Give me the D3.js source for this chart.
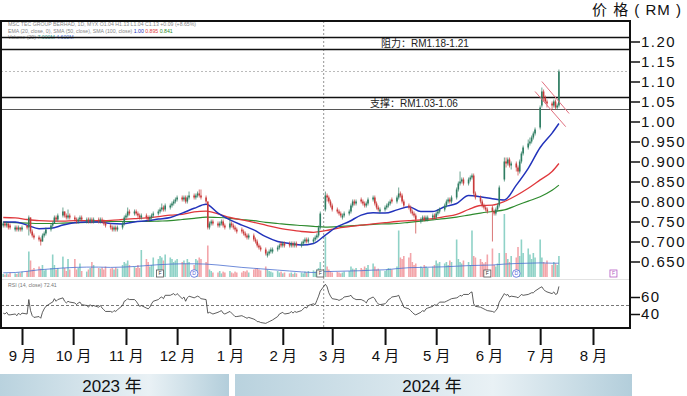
<!DOCTYPE html>
<html>
<head>
<meta charset="utf-8">
<script src="https://cdn.jsdelivr.net/npm/d3@7"></script>
<style>
  body { margin: 0; background: #fff; }
  svg { display: block; font-family: "Liberation Sans", Arial, "Noto Sans CJK SC", sans-serif; }
</style>
</head>
<body>
<div id="chart"></div>
<script>
// daily bars, one per weekday from Mon 21 Aug 2023 to Fri 12 Jul 2024 (5 per row = 1 week)
const opens = [
  .740,.745,.740,.745,.740, .730,.735,.730,.735,.730, .740,.735,.760,.725,.715, .710,.705,.700,.715,.720,
  .730,.740,.745,.760,.755, .765,.775,.765,.760,.765, .760,.755,.750,.755,.760, .750,.755,.750,.755,.750,
  .755,.750,.755,.750,.745, .740,.735,.730,.735,.730, .735,.745,.760,.765,.775, .770,.775,.770,.765,.760,
  .765,.760,.755,.760,.765, .770,.775,.780,.785,.780, .785,.790,.795,.800,.805, .810,.805,.810,.800,.810,
  .815,.810,.815,.820,.815, .810,.800,.735,.745,.750, .745,.740,.745,.750,.740, .735,.745,.740,.735,.730,
  .730,.725,.720,.715,.710, .715,.705,.700,.690,.685, .680,.665,.670,.675,.675, .680,.685,.695,.690,.695,
  .695,.690,.695,.690,.695, .690,.695,.700,.705,.700, .700,.705,.710,.715,.735, .780,.815,.810,.800,.790,
  .780,.775,.770,.760,.765, .770,.775,.790,.800,.795, .805,.800,.795,.790,.795, .805,.810,.795,.785,.775,
  .780,.785,.790,.795,.805, .800,.810,.820,.815,.800, .790,.785,.775,.770,.765, .750,.755,.760,.755,.755,
  .760,.765,.760,.770,.775, .780,.790,.800,.805,.800, .810,.830,.845,.850,.855, .845,.855,.860,.865,.820,
  .810,.800,.790,.785,.780, .785,.775,.770,.780,.790, .855,.900,.895,.905,.890, .895,.885,.875,.900,.920,
  .935,.945,.950,.960,.970, .985,1.040,1.075,1.060,1.050, 1.045,1.040,1.050,1.035,1.040
];
const highs = [
  .750,.750,.750,.745,.745, .740,.740,.740,.735,.740, .740,.765,.760,.730,.720, .715,.710,.720,.725,.735,
  .745,.750,.765,.765,.770, .785,.775,.770,.780,.770, .765,.760,.760,.765,.765, .760,.760,.760,.760,.760,
  .760,.760,.760,.755,.750, .745,.740,.740,.740,.740, .750,.765,.770,.785,.780, .780,.780,.775,.770,.770,
  .770,.765,.765,.770,.775, .780,.785,.795,.790,.795, .795,.800,.805,.810,.815, .815,.815,.815,.815,.825,
  .820,.820,.825,.830,.830, .815,.800,.750,.755,.755, .750,.750,.755,.755,.745, .760,.750,.745,.740,.735,
  .735,.730,.725,.720,.720, .720,.710,.705,.695,.690, .685,.675,.680,.685,.685, .690,.695,.700,.700,.700,
  .700,.700,.700,.700,.700, .700,.705,.710,.710,.710, .710,.715,.720,.740,.775, .825,.820,.815,.805,.795,
  .785,.780,.775,.770,.775, .780,.795,.805,.805,.805, .810,.805,.800,.800,.810, .815,.815,.800,.790,.785,
  .790,.795,.800,.805,.810, .815,.835,.825,.820,.805, .795,.790,.780,.775,.770, .760,.765,.765,.765,.765,
  .770,.770,.775,.780,.785, .795,.805,.810,.810,.815, .835,.850,.875,.860,.860, .860,.865,.870,.870,.825,
  .815,.805,.795,.790,.785, .790,.780,.785,.795,.840, .910,.910,.910,.910,.900, .900,.890,.905,.925,.940,
  .955,.960,.965,.975,.985, 1.040,1.085,1.080,1.065,1.055, 1.050,1.055,1.055,1.045,1.130
];
const lows = [
  .735,.735,.735,.730,.730, .725,.725,.725,.725,.725, .730,.715,.720,.710,.705, .700,.690,.700,.710,.715,
  .725,.735,.745,.750,.750, .760,.760,.755,.755,.755, .750,.745,.745,.750,.750, .745,.745,.745,.745,.745,
  .745,.745,.745,.740,.735, .730,.725,.725,.725,.725, .730,.740,.755,.760,.765, .765,.765,.760,.755,.755,
  .755,.750,.750,.755,.760, .765,.770,.775,.775,.775, .780,.785,.790,.795,.800, .800,.800,.795,.795,.805,
  .805,.805,.810,.810,.805, .795,.730,.730,.740,.740, .735,.735,.740,.735,.730, .730,.735,.730,.725,.720,
  .720,.715,.710,.705,.705, .700,.695,.685,.680,.675, .665,.660,.665,.670,.670, .675,.680,.685,.685,.685,
  .685,.685,.685,.685,.685, .685,.690,.695,.695,.695, .695,.700,.705,.710,.730, .775,.800,.795,.785,.775,
  .770,.765,.760,.755,.760, .765,.770,.785,.790,.790, .795,.790,.785,.785,.790, .800,.790,.780,.775,.770,
  .775,.780,.785,.790,.795, .795,.805,.810,.795,.785, .780,.770,.765,.760,.720, .745,.750,.750,.750,.750,
  .755,.755,.755,.765,.770, .775,.785,.795,.795,.795, .805,.825,.840,.845,.840, .840,.850,.855,.815,.805,
  .795,.785,.780,.775,.770, .700,.765,.765,.775,.785, .850,.885,.890,.885,.880, .875,.865,.870,.895,.915,
  .930,.940,.945,.955,.965, .980,1.035,1.050,1.045,1.035, 1.030,1.035,1.030,1.030,1.035
];
const closes = [
  .745,.740,.745,.735,.735, .735,.730,.735,.730,.735, .735,.760,.725,.715,.710, .705,.700,.715,.720,.730,
  .740,.745,.760,.755,.765, .775,.765,.760,.765,.760, .755,.750,.755,.760,.755, .755,.750,.755,.750,.755,
  .750,.755,.750,.745,.740, .735,.730,.735,.730,.735, .745,.760,.765,.775,.770, .775,.770,.765,.760,.765,
  .760,.755,.760,.765,.770, .775,.780,.785,.780,.790, .790,.795,.800,.805,.810, .805,.810,.800,.810,.815,
  .810,.815,.820,.815,.810, .800,.735,.745,.750,.745, .740,.745,.750,.740,.735, .745,.740,.735,.730,.725,
  .725,.720,.715,.710,.715, .705,.700,.690,.685,.680, .670,.670,.675,.680,.680, .685,.690,.690,.695,.690,
  .690,.695,.690,.695,.690, .695,.700,.705,.700,.705, .705,.710,.715,.735,.770, .815,.810,.800,.790,.780,
  .775,.770,.765,.765,.770, .775,.790,.800,.795,.800, .800,.795,.790,.795,.805, .810,.795,.785,.780,.780,
  .785,.790,.795,.800,.800, .810,.820,.815,.800,.790, .785,.775,.770,.765,.755, .755,.760,.755,.760,.760,
  .765,.760,.770,.775,.780, .790,.800,.805,.800,.810, .830,.845,.850,.855,.845, .855,.860,.865,.820,.810,
  .800,.790,.785,.780,.775, .775,.770,.780,.790,.835, .900,.895,.905,.890,.895, .885,.875,.900,.920,.935,
  .945,.950,.960,.970,.980, 1.035,1.075,1.060,1.050,1.045, 1.040,1.050,1.035,1.040,1.125
];
// volume, millions
const volumes = [
  1.0,0.8,1.2,0.9,1.5, 1.2,1.0,1.5,1.3,1.8, 2.0,8.5,5.5,2.5,3.0, 3.5,2.8,4.0,2.2,2.5,
  3.0,7.5,4.0,2.5,3.0, 6.8,3.0,2.0,6.0,2.5, 6.0,2.5,3.0,4.5,2.0, 1.8,2.5,3.0,5.0,4.0,
  3.0,2.8,3.2,2.5,3.5, 2.8,3.0,2.5,3.2,2.8, 4.0,5.0,4.5,5.5,4.0, 3.5,3.0,4.0,3.0,9.0,
  6.0,5.0,3.5,4.0,6.5, 6.0,7.0,6.5,5.5,7.5, 6.5,6.0,5.0,5.5,6.0, 5.0,5.5,4.5,6.0,5.0,
  4.0,6.0,5.5,6.5,6.0, 5.0,10.5,2.5,2.0,1.5, 1.5,2.0,1.2,1.8,1.5, 2.0,1.5,1.2,1.8,1.5,
  1.5,2.0,1.8,2.2,1.5, 2.5,2.8,3.0,2.5,2.2, 3.5,2.5,2.0,1.8,1.5, 2.0,1.5,1.8,1.2,1.5,
  1.2,1.5,1.0,1.5,1.2, 1.5,1.2,1.8,1.5,2.0, 2.2,1.8,2.5,3.0,5.0, 13.5,3.5,2.5,2.0,1.5,
  1.8,1.5,1.2,1.5,1.8, 2.0,3.5,2.8,2.5,3.0, 3.0,2.5,3.5,3.0,4.0, 4.5,3.5,2.5,2.8,2.2,
  2.0,2.5,3.0,2.8,2.5, 3.5,15.5,6.5,6.0,7.0, 6.5,8.0,5.0,4.0,4.5, 3.5,3.0,4.0,3.5,3.0,
  3.5,4.0,5.5,4.5,5.0, 4.5,5.0,4.0,5.5,5.0, 12.5,6.0,5.0,4.5,5.5, 5.0,4.0,15.5,7.0,6.5,
  6.0,5.0,4.5,5.0,7.5, 9.5,4.0,3.5,4.5,8.0, 21.0,8.0,6.0,5.0,7.0, 6.5,10.0,7.0,12.5,8.0,
  9.5,7.5,6.0,8.0,6.5, 12.5,6.5,5.0,4.5,5.5, 4.0,5.0,4.5,4.0,7.0
];
// RSI (14, close)
const rsi = [
  41,40,42,39,39, 40,38,41,39,41, 40,57,44,38,36, 37,35,42,46,49,
  53,54,58,55,57, 59,55,53,55,54, 53,51,53,54,51, 50,48,51,49,50,
  48,50,47,45,43, 43,42,44,43,45, 50,55,56,58,57, 57,55,52,49,50,
  47,46,48,52,55, 57,59,60,58,62, 62,63,64,62,64, 58,60,55,59,61,
  59,60,61,60,58, 57,41,42,41,40, 42,43,44,41,40, 43,41,39,37,37,
  38,37,36,35,36, 34,33,31,31,30, 29,30,31,32,33, 37,40,41,42,40,
  41,43,41,43,42, 44,46,48,47,50, 52,51,56,61,67, 75,72,65,61,58,
  57,56,57,58,60, 61,62,59,58,57, 57,56,55,53,57, 60,58,54,52,51,
  52,54,57,58,60, 61,62,57,53,48, 46,44,42,40,39, 42,44,43,46,47,
  49,51,50,52,54, 54,55,56,57,58, 59,60,62,61,63, 63,65,66,52,49,
  48,47,46,45,44, 43,42,44,47,54, 64,62,63,60,61, 60,59,61,63,62,
  63,64,65,65,67, 71,72,69,67,66, 64,66,63,64,72.41
];
// moving averages, read at every Monday plus the last bar
const maBlue  = [.749,.749,.741,.732,.733,.741,.747,.749,.749,.745,.744,.749,.752,.756,.760,.771,.783,.793,.771,.754,
                 .741,.729,.712,.700,.695,.691,.695,.716,.737,.750,.766,.772,.771,.779,.787,.775,.775,.787,.795,.815,
                 .812,.807,.804,.841,.883,.935,.971,.995];
const maRed   = [.760,.759,.755,.752,.751,.751,.752,.752,.752,.753,.755,.757,.759,.762,.766,.768,.774,.776,.769,.760,
                 .754,.748,.741,.734,.729,.725,.723,.727,.733,.737,.741,.744,.747,.750,.752,.754,.757,.762,.768,.780,
                 .790,.791,.800,.815,.833,.854,.875,.895];
const maGreen = [.748,.747,.746,.745,.745,.746,.747,.748,.749,.750,.750,.750,.750,.751,.752,.755,.758,.761,.760,.758,
                 .755,.752,.748,.745,.742,.740,.738,.736,.737,.739,.741,.743,.744,.745,.748,.751,.754,.757,.761,.766,
                 .771,.775,.779,.790,.801,.812,.828,.841];
const volMa   = [1.4,1.5,1.9,2.4,2.7,3.0,3.2,3.3,3.3,3.2,3.3,3.5,3.8,4.1,4.3,4.4,4.4,4.3,4.0,3.6,
                 3.2,2.9,2.6,2.3,2.0,1.7,1.5,1.8,1.9,2.0,2.1,2.3,2.4,2.8,3.1,3.2,3.3,3.4,3.6,3.8,
                 3.9,4.0,4.3,4.5,4.6,4.7,4.6,4.6];

const priceTicks = [1.20, 1.15, 1.10, 1.05, 1.00, 0.95, 0.90, 0.85, 0.80, 0.75, 0.70, 0.65];
const priceLabels = ["1.20", "1.15", "1.10", "1.05", "1.00", "0.950", "0.900", "0.850", "0.800", "0.750", "0.700", "0.650"];
const rsiTicks = [60, 40];
const monthLabels = ["9 月", "10 月", "11 月", "12 月", "1 月", "2 月", "3 月", "4 月", "5 月", "6 月", "7 月", "8 月"];
const yearLabels = ["2023 年", "2024 年"];
const resistance = [1.18, 1.21];
const support = [1.03, 1.06];
const lastPrice = 1.125;
const markDate = "2024-02-25";
const channelUpper = [["2024-07-02", 1.10], ["2024-07-18", 1.02]];
const channelLower = [["2024-06-28", 1.075], ["2024-07-16", 0.987]];
const eventDates = ["2023-11-21", "2023-12-11", "2024-02-23", "2024-05-31", "2024-06-17", "2024-08-13"];
const eventKinds = ["F", "D", "F", "F", "D", "P"];

const parse = d3.timeParse("%Y-%m-%d");
const days = d3.timeDay.range(new Date(2023, 7, 21), new Date(2024, 6, 13))
  .filter(d => d.getDay() !== 0 && d.getDay() !== 6);
const weeks = d3.timeMonday.range(new Date(2023, 7, 21), new Date(2024, 6, 13)).concat([new Date(2024, 6, 12)]);
const bars = days.map((d, i) => ({ date: d, o: opens[i], h: highs[i], l: lows[i], c: closes[i], v: volumes[i], r: rsi[i] }));

const width = 687, height = 396;
const frame = { left: 1, right: 630, top: 21, bottom: 328 };

const svg = d3.select("#chart").append("svg")
  .attr("width", width)
  .attr("height", height);

const defs = svg.append("defs");
defs.append("clipPath").attr("id", "plot")
  .append("rect")
  .attr("x", frame.left).attr("y", frame.top)
  .attr("width", frame.right - frame.left).attr("height", frame.bottom - frame.top);
const grad = defs.append("linearGradient").attr("id", "yearGrad");
grad.append("stop").attr("offset", "0%").attr("stop-color", "#b9d2de");
grad.append("stop").attr("offset", "65%").attr("stop-color", "#e9f1f5");
grad.append("stop").attr("offset", "100%").attr("stop-color", "#b3cedb");

var x = d3.scaleTime().domain([new Date(2023, 8, 1), new Date(2024, 7, 1)]).range([22, 593]);
var y = d3.scaleLinear().domain([0.65, 1.20]).range([261.5, 41.5]);
var vy = d3.scaleLinear().domain([0, 22]).range([277, 211]);
var ry = d3.scaleLinear().domain([40, 60]).range([314, 297]);

const plot = svg.append("g").attr("clip-path", "url(#plot)");

// legend text
const legend = plot.append("g").attr("font-size", 5.2).attr("fill", "#888");
legend.append("text").attr("x", 8).attr("y", 26)
  .text("MSC TEC GROUP BERHAD, 1D, MYX   O1.04  H1.13  L1.04  C1.13  +0.09 (+8.65%)");
const l2 = legend.append("text").attr("x", 8).attr("y", 32.5);
l2.append("tspan").text("EMA (20, close, 0), SMA (50, close), SMA (100, close)  ");
l2.append("tspan").attr("fill", "#2233bb").text("1.00 ");
l2.append("tspan").attr("fill", "#e0383c").text("0.895 ");
l2.append("tspan").attr("fill", "#2e8b2e").text("0.841");
const l3 = legend.append("text").attr("x", 8).attr("y", 39);
l3.append("tspan").text("Volume (20)  ");
l3.append("tspan").attr("fill", "#3a9a8c").text("7.000M ");
l3.append("tspan").attr("fill", "#4a6fd0").text("4.600M");

// separator between volume and RSI
plot.append("line")
  .attr("x1", frame.left).attr("x2", frame.right)
  .attr("y1", 279.5).attr("y2", 279.5)
  .attr("stroke", "#e2e2e2");

// last price dotted line
plot.append("line")
  .attr("x1", frame.left).attr("x2", frame.right)
  .attr("y1", y(lastPrice)).attr("y2", y(lastPrice))
  .attr("stroke", "#bbb").attr("stroke-dasharray", "2,2");

// vertical marker line
plot.append("line")
  .attr("x1", x(parse(markDate))).attr("x2", x(parse(markDate)))
  .attr("y1", frame.top).attr("y2", frame.bottom)
  .attr("stroke", "#777").attr("stroke-dasharray", "2,2").attr("stroke-width", 0.8);

// resistance / support bands
plot.selectAll(".lvl")
  .data([resistance[0], resistance[1], support[1]])
  .enter().append("line")
  .attr("x1", frame.left).attr("x2", frame.right)
  .attr("y1", d => y(d)).attr("y2", d => y(d))
  .attr("stroke", "#111").attr("stroke-width", 1.6);
plot.append("line")
  .attr("x1", frame.left).attr("x2", frame.right)
  .attr("y1", y(support[0])).attr("y2", y(support[0]))
  .attr("stroke", "#444").attr("stroke-width", 0.9);

svg.append("text").attr("x", 381).attr("y", y(d3.mean(resistance)) + 3.5)
  .attr("font-size", 10).attr("fill", "#222")
  .text("阻力：RM" + resistance[0].toFixed(2) + "-" + resistance[1].toFixed(2));
svg.append("text").attr("x", 370).attr("y", y(d3.mean(support)) + 3.5)
  .attr("font-size", 10).attr("fill", "#222")
  .text("支撑：RM" + support[0].toFixed(2) + "-" + support[1].toFixed(2));

// volume bars
const up = d => d.c >= d.o;
plot.selectAll(".vol")
  .data(bars)
  .enter().append("rect")
  .attr("x", d => x(d.date) - 0.8)
  .attr("width", 1.6)
  .attr("y", d => vy(d.v))
  .attr("height", d => vy(0) - vy(d.v))
  .attr("fill", d => up(d) ? "#8fd2c7" : "#f3a5aa");

plot.append("path")
  .datum(volMa)
  .attr("fill", "none").attr("stroke", "#4a6fd0").attr("stroke-width", 0.8)
  .attr("d", d3.line().x((d, i) => x(weeks[i])).y(d => vy(d)).curve(d3.curveMonotoneX));

// event markers
const ev = plot.selectAll(".ev")
  .data(eventDates.map((d, i) => ({ date: parse(d), kind: eventKinds[i] })))
  .enter().append("g")
  .attr("transform", d => "translate(" + x(d.date) + "," + (vy(0) - 3.5) + ")");
ev.filter(d => d.kind !== "D").append("rect")
  .attr("x", -3.5).attr("y", -3.5).attr("width", 7).attr("height", 7)
  .attr("fill", "#fff").attr("stroke", d => d.kind === "P" ? "#b45cc4" : "#555").attr("stroke-width", 0.8);
ev.filter(d => d.kind === "D").append("circle")
  .attr("r", 3.8).attr("fill", "#fff").attr("stroke", "#5566dd").attr("stroke-width", 0.8);
ev.append("text")
  .attr("text-anchor", "middle").attr("y", 1.8).attr("font-size", 5)
  .attr("fill", d => d.kind === "P" ? "#b45cc4" : d.kind === "D" ? "#5566dd" : "#333")
  .text(d => d.kind === "D" ? "D" : "F");

// moving averages
const maLine = d3.line().x((d, i) => x(weeks[i])).y(d => y(d)).curve(d3.curveMonotoneX);
[[maGreen, "#2e8b2e", 1.2], [maRed, "#e0383c", 1.3], [maBlue, "#2233bb", 1.5]].forEach(m => {
  plot.append("path").datum(m[0])
    .attr("fill", "none").attr("stroke", m[1]).attr("stroke-width", m[2])
    .attr("d", maLine);
});

// candles
const candle = plot.selectAll(".candle")
  .data(bars)
  .enter().append("g")
  .attr("fill", d => up(d) ? "#2e7d62" : "#c93a3a")
  .attr("stroke", d => up(d) ? "#2e7d62" : "#c93a3a");
candle.append("line")
  .attr("x1", d => x(d.date)).attr("x2", d => x(d.date))
  .attr("y1", d => y(d.h)).attr("y2", d => y(d.l))
  .attr("stroke-width", 0.7);
candle.append("rect")
  .attr("stroke", "none")
  .attr("x", d => x(d.date) - 0.8)
  .attr("width", 1.6)
  .attr("y", d => y(Math.max(d.o, d.c)))
  .attr("height", d => Math.max(0.8, Math.abs(y(d.o) - y(d.c))));

// falling channel
[channelUpper, channelLower].forEach(c => {
  plot.append("line")
    .attr("x1", x(parse(c[0][0]))).attr("y1", y(c[0][1]))
    .attr("x2", x(parse(c[1][0]))).attr("y2", y(c[1][1]))
    .attr("stroke", "#e0707f").attr("stroke-width", 1);
});

// RSI panel
plot.append("line")
  .attr("x1", frame.left).attr("x2", frame.right)
  .attr("y1", ry(50)).attr("y2", ry(50))
  .attr("stroke", "#555").attr("stroke-dasharray", "3,2").attr("stroke-width", 0.8);
plot.append("path")
  .datum(bars)
  .attr("fill", "none").attr("stroke", "#333").attr("stroke-width", 0.8)
  .attr("d", d3.line().x(d => x(d.date)).y(d => ry(d.r)));
plot.append("text").attr("x", 8).attr("y", 286.5)
  .attr("font-size", 5.2).attr("fill", "#777")
  .text("RSI (14, close)  " + rsi[rsi.length - 1].toFixed(2));

// frame
svg.append("rect")
  .attr("x", frame.left).attr("y", frame.top)
  .attr("width", frame.right - frame.left).attr("height", frame.bottom - frame.top)
  .attr("fill", "none").attr("stroke", "#111").attr("stroke-width", 2);

// right axes
const styleAxis = g => {
  g.select(".domain").remove();
  g.selectAll(".tick line").attr("stroke", "#111").attr("stroke-width", 1.5);
  g.selectAll(".tick text").attr("fill", "#111").attr("font-size", 15)
    .attr("letter-spacing", "1.5px").attr("font-family", "Liberation Sans, Arial, sans-serif");
};
svg.append("g")
  .attr("transform", "translate(" + (frame.right + 1) + ",0)")
  .call(d3.axisRight(y).tickValues(priceTicks).tickFormat((d, i) => priceLabels[i]).tickSize(9).tickPadding(1))
  .call(styleAxis);
svg.append("g")
  .attr("transform", "translate(" + (frame.right + 1) + ",0)")
  .call(d3.axisRight(ry).tickValues(rsiTicks).tickSize(9).tickPadding(1))
  .call(styleAxis);

svg.append("text").attr("x", 592).attr("y", 15)
  .attr("font-size", 15).attr("fill", "#111").attr("letter-spacing", "1px")
  .text("价 格 ( RM )");

// month axis
const months = d3.timeMonth.range(new Date(2023, 8, 1), new Date(2024, 7, 2));
svg.append("g")
  .attr("transform", "translate(0," + (frame.bottom + 1) + ")")
  .call(d3.axisBottom(x).tickValues(months).tickFormat((d, i) => monthLabels[i]).tickSize(16).tickPadding(5))
  .call(g => {
    g.select(".domain").remove();
    g.selectAll(".tick line").attr("stroke", "#111").attr("stroke-width", 2);
    g.selectAll(".tick text").attr("fill", "#111").attr("font-size", 15)
      .attr("font-family", "Liberation Sans, Noto Sans CJK SC, sans-serif");
  });

// year bands
const yearSpans = [[0, 229], [235, 632]];
const yb = svg.selectAll(".year")
  .data(yearLabels)
  .enter().append("g");
yb.append("rect")
  .attr("x", (d, i) => yearSpans[i][0]).attr("y", 374)
  .attr("width", (d, i) => yearSpans[i][1] - yearSpans[i][0]).attr("height", 22)
  .attr("fill", "url(#yearGrad)");
yb.append("text")
  .attr("x", (d, i) => i === 0 ? 112 : 432).attr("y", 392)
  .attr("text-anchor", "middle").attr("font-size", 17).attr("fill", "#111")
  .text(d => d);
</script>
</body>
</html>
